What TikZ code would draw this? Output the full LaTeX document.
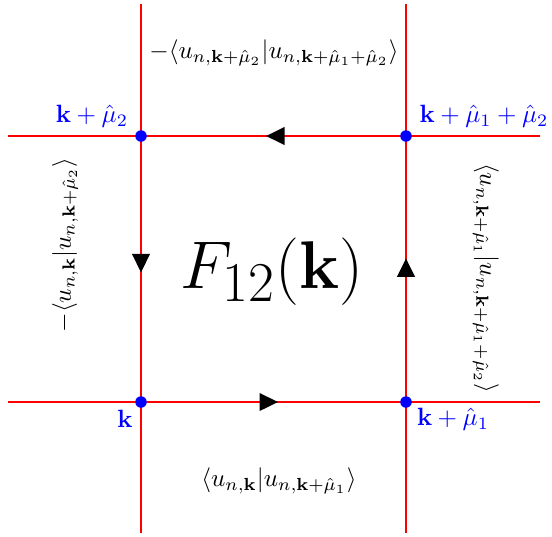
\documentclass[tikz,border=0pt]{standalone}
\usepackage{graphicx}
\usetikzlibrary{arrows.meta,decorations.markings}
\begin{document}
\begin{tikzpicture}[x=0.40pt,y=-0.40pt,
  gridline/.style={red,line width=0.95pt},
  dot/.style={circle,fill=blue,inner sep=0pt,minimum size=4.6pt},
  ptlabel/.style={blue,inner sep=0pt},
  linklabel/.style={black,inner sep=0pt},
  midarrow/.style={decoration={markings,mark=at position #1 with {\arrow[black]{Triangle[length=7.4pt,width=7pt]}}},postaction={decorate}}
]
\useasboundingbox (0,0) rectangle (552,536);
% line ends
\coordinate (hTl) at (8,136);  \coordinate (hTr) at (540,136);
\coordinate (hBl) at (8,402);  \coordinate (hBr) at (540,402);
\coordinate (vLt) at (141,4);  \coordinate (vLb) at (141,533);
\coordinate (vRt) at (406,4);  \coordinate (vRb) at (406,533);
\draw[gridline] (hTl) -- (hTr);
\draw[gridline] (hBl) -- (hBr);
\draw[gridline] (vLt) -- (vLb);
\draw[gridline] (vRt) -- (vRb);
% corners
\coordinate (k) at (141,402);
\coordinate (k1) at (406,402);
\coordinate (k12) at (406,136);
\coordinate (k2) at (141,136);
% loop edges with arrows
\draw[gridline,midarrow=0.517] (k) -- (k1);
\draw[gridline,midarrow=0.54] (k1) -- (k12);
\draw[gridline,midarrow=0.528] (k12) -- (k2);
\draw[gridline,midarrow=0.513] (k2) -- (k);
% dots
\node[dot] (dk) at (k) {};
\node[dot] (dk1) at (k1) {};
\node[dot] (dk12) at (k12) {};
\node[dot] (dk2) at (k2) {};
% point labels
\node[ptlabel] (lk) at (125,419) {$\mathbf{k}$};
\node[ptlabel] (lk1) at (453,419) {$\mathbf{k}+\hat{\mu}_1$};
\node[ptlabel] (lk2) at (92,116) {$\mathbf{k}+\hat{\mu}_2$};
\node[ptlabel] (lk12) at (484,116) {$\mathbf{k}+\hat{\mu}_1+\hat{\mu}_2$};
% link labels
\node[linklabel] (ltop) at (274,53) {$-\langle u_{n,\mathbf{k}+\hat{\mu}_2}|u_{n,\mathbf{k}+\hat{\mu}_1+\hat{\mu}_2}\rangle$};
\node[linklabel] (lbot) at (279,481) {$\langle u_{n,\mathbf{k}}|u_{n,\mathbf{k}+\hat{\mu}_1}\rangle$};
\node[linklabel,rotate=90] (lleft) at (65,245) {$-\langle u_{n,\mathbf{k}}|u_{n,\mathbf{k}+\hat{\mu}_2}\rangle$};
\node[linklabel,rotate=-90] (lright) at (486,278) {$\langle u_{n,\mathbf{k}+\hat{\mu}_1}|u_{n,\mathbf{k}+\hat{\mu}_1+\hat{\mu}_2}\rangle$};
% center
\node[inner sep=0pt] (F) at (272,272) {\scalebox{1.085}{\fontsize{24.88}{30}\selectfont $F_{12}(\mathbf{k})$}};
\end{tikzpicture}
\end{document}
